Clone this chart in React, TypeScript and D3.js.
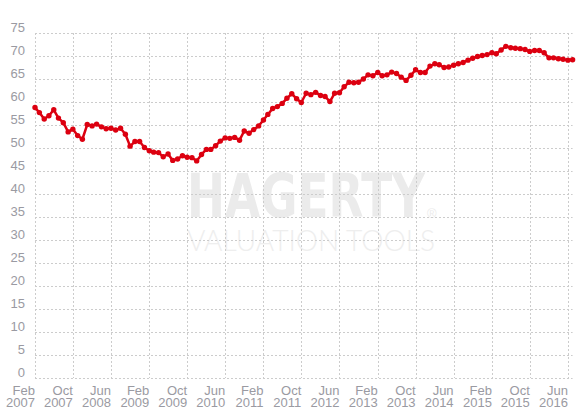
import { useEffect } from 'react';
import * as d3 from 'd3';

// monthly valuation index, Feb 2007 .. Jul 2016
const startMonth = '2007-02';
const values = [
  58.8, 57.7, 56.3, 57.0, 58.3, 56.5, 55.5, 53.5, 54.1, 52.7, 51.9, 55.1,
  54.8, 55.2, 54.6, 54.2, 54.3, 53.9, 54.3, 53.0, 50.4, 51.4, 51.4, 50.1,
  49.4, 49.1, 49.0, 48.1, 48.7, 47.3, 47.6, 48.3, 48.0, 47.9, 47.2, 48.6,
  49.7, 49.7, 50.5, 51.5, 52.2, 52.1, 52.3, 51.7, 53.7, 53.2, 54.0, 54.8,
  56.1, 57.3, 58.6, 59.0, 59.7, 60.8, 61.8, 60.7, 59.9, 61.9, 61.6, 62.1,
  61.4, 61.2, 60.1, 61.9, 62.0, 63.3, 64.3, 64.2, 64.3, 65.0, 65.9, 65.7,
  66.4, 65.7, 65.9, 66.5, 66.2, 65.4, 64.7, 65.8, 67.0, 66.4, 66.4, 67.8,
  68.3, 68.1, 67.5, 67.6, 68.0, 68.3, 68.6, 69.1, 69.5, 69.9, 70.1, 70.3,
  70.7, 70.5, 71.3, 72.1, 71.8, 71.7, 71.6, 71.4, 71.0, 71.2, 71.2, 70.7,
  69.6, 69.6, 69.4, 69.3, 69.1, 69.2,
];

const xTickLabels = [
  'Feb 2007', 'Oct 2007', 'Jun 2008', 'Feb 2009', 'Oct 2009', 'Jun 2010',
  'Feb 2011', 'Oct 2011', 'Jun 2012', 'Feb 2013', 'Oct 2013', 'Jun 2014',
  'Feb 2015', 'Oct 2015', 'Jun 2016',
];
const yTicks = [0, 5, 10, 15, 20, 25, 30, 35, 40, 45, 50, 55, 60, 65, 70, 75];

const width = 587;
const height = 413;
const left = 35;
const right = 572.6;
const top = 33;
const bottom = 378;

const parseMonth = d3.timeParse('%Y-%m');
const parseTick = d3.timeParse('%b %Y');
const start = parseMonth(startMonth) as Date;
const dates = values.map((_, i) => d3.timeMonth.offset(start, i));

export default function App() {
  useEffect(() => {
    document.body.style.margin = '0';
  }, []);

  const x = d3
    .scaleTime()
    .domain([dates[0], dates[dates.length - 1]])
    .range([left, right]);
  const y = d3.scaleLinear().domain([0, 75]).range([bottom, top]);

  const line = d3
    .line<number>()
    .x((_, i) => x(dates[i]))
    .y((d) => y(d));

  const grid = '#cccccc';
  const labelColor = '#9a9aa2';
  const red = '#dc0010';

  return (
    <svg width={width} height={height} style={{ display: 'block', fontFamily: 'Arial, "Liberation Sans", sans-serif' }}>
      <rect width={width} height={height} fill="#fff" />

      {/* watermark */}
      <g>
        <text
          x={187}
          y={217}
          fontSize={60}
          fontWeight="bold"
          fontFamily='"DejaVu Sans Condensed", "Liberation Sans Narrow", Arial'
          fill="#ebebeb"
          textLength={238}
          lengthAdjust="spacingAndGlyphs"
        >
          HAGERTY
        </text>
        <text x={427} y={218} fontSize={13} fill="#ebebeb">®</text>
        <text
          x={187}
          y={251}
          fontSize={29}
          fontWeight={300}
          fontFamily='Lato, "Open Sans", sans-serif'
          fill="#eeeeee"
          textLength={248}
          lengthAdjust="spacingAndGlyphs"
        >
          VALUATION TOOLS
        </text>
      </g>

      {/* grid */}
      <g stroke={grid} strokeWidth={1} strokeDasharray="2,2">
        {yTicks.map((t) => (
          <line key={t} x1={left} x2={right} y1={Math.round(y(t)) + 0.5} y2={Math.round(y(t)) + 0.5} />
        ))}
        {xTickLabels.map((l) => {
          const px = Math.round(x(parseTick(l) as Date)) + 0.5;
          return <line key={l} x1={px} x2={px} y1={top} y2={bottom} />;
        })}
      </g>

      {/* y labels */}
      <g fill={labelColor} fontSize={13} textAnchor="end">
        {yTicks.map((t) => (
          <text key={t} x={25} y={y(t) - 1}>
            {t}
          </text>
        ))}
      </g>

      {/* x labels */}
      <g fill={labelColor} fontSize={13} textAnchor="end">
        {xTickLabels.map((l) => {
          const [m, yr] = l.split(' ');
          const px = x(parseTick(l) as Date);
          return (
            <g key={l}>
              <text x={px} y={394.5}>{m}</text>
              <text x={px} y={406.5}>{yr}</text>
            </g>
          );
        })}
      </g>

      {/* series */}
      <path d={line(values) ?? ''} fill="none" stroke={red} strokeWidth={2.5} strokeLinejoin="round" />
      <g fill={red}>
        {values.map((v, i) => (
          <circle key={i} cx={x(dates[i])} cy={y(v)} r={2.7} />
        ))}
      </g>
    </svg>
  );
}
